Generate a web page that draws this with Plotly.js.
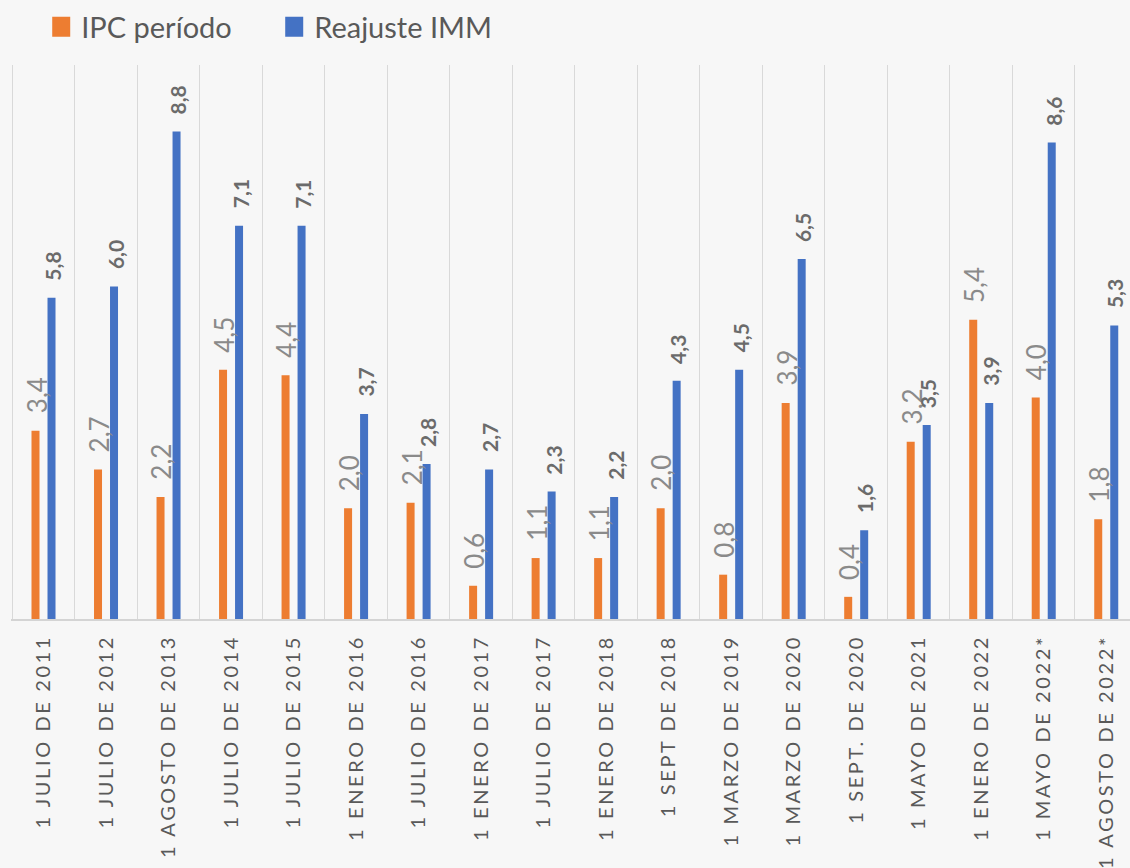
<!DOCTYPE html>
<html>
<head>
<meta charset="utf-8">
<script src="https://cdn.plot.ly/plotly-3.0.1.min.js"></script>
<style>
  html, body { margin: 0; padding: 0; overflow: hidden; background: #f7f7f7; }
  #chart { width: 1130px; height: 868px; }
  .xtick text { letter-spacing: 2.6px; }
</style>
</head>
<body>
<div id="chart"></div>
<script>
const categories = [
  "1 JULIO DE 2011", "1 JULIO DE 2012", "1 AGOSTO DE 2013", "1 JULIO DE 2014",
  "1 JULIO DE 2015", "1 ENERO DE 2016", "1 JULIO DE 2016", "1 ENERO DE 2017",
  "1 JULIO DE 2017", "1 ENERO DE 2018", "1 SEPT DE 2018", "1 MARZO DE 2019",
  "1 MARZO DE 2020", "1 SEPT. DE 2020", "1 MAYO DE 2021", "1 ENERO DE 2022",
  "1 MAYO DE 2022*", "1 AGOSTO DE 2022*"
];
const ipcPeriodo = [3.4, 2.7, 2.2, 4.5, 4.4, 2.0, 2.1, 0.6, 1.1, 1.1, 2.0, 0.8, 3.9, 0.4, 3.2, 5.4, 4.0, 1.8];
const reajusteIMM = [5.8, 6.0, 8.8, 7.1, 7.1, 3.7, 2.8, 2.7, 2.3, 2.2, 4.3, 4.5, 6.5, 1.6, 3.5, 3.9, 8.6, 5.3];
const seriesNames = ["IPC período", "Reajuste IMM"];

const fmt = v => v.toFixed(1).replace('.', ',');

const traces = [
  { type: 'bar', name: seriesNames[0], x: categories, y: ipcPeriodo,
    marker: { color: '#ED7D31' }, hoverinfo: 'x+y' },
  { type: 'bar', name: seriesNames[1], x: categories, y: reajusteIMM,
    marker: { color: '#4472C4' }, hoverinfo: 'x+y' }
];

const annotations = [];
categories.forEach((c, i) => {
  annotations.push({
    x: c, y: ipcPeriodo[i], xref: 'x', yref: 'y', text: fmt(ipcPeriodo[i]),
    showarrow: false, textangle: -90, xanchor: 'center', yanchor: 'bottom',
    xshift: -7, yshift: 15,
    font: { family: 'Lato, sans-serif', size: 26, color: '#8a8a8a' }
  });
  annotations.push({
    x: c, y: reajusteIMM[i], xref: 'x', yref: 'y', text: '<b>' + fmt(reajusteIMM[i]) + '</b>',
    showarrow: false, textangle: -90, xanchor: 'center', yanchor: 'bottom',
    xshift: 9, yshift: 15,
    font: { family: 'Lato, sans-serif', size: 21, color: '#6b6b6b' }
  });
});

const layout = {
  width: 1130, height: 868,
  margin: { l: 11, r: 0, t: 65, b: 249 },
  paper_bgcolor: '#f7f7f7', plot_bgcolor: 'rgba(0,0,0,0)',
  barmode: 'group', bargap: 0.488, bargroupgap: 0.5,
  separators: ',.',
  showlegend: true,
  legend: {
    orientation: 'h', x: 0.027, xanchor: 'left', y: 1.0686, yanchor: 'middle',
    yref: 'paper', xref: 'paper',
    font: { family: 'Lato, sans-serif', size: 29, color: '#595959' },
    bgcolor: 'rgba(0,0,0,0)', entrywidth: 188
  },
  xaxis: {
    type: 'category', range: [-0.52, 17.38], tickson: 'boundaries',
    showgrid: true, gridcolor: '#d9d9d9', gridwidth: 1,
    showline: true, linecolor: '#d4d4d4', linewidth: 2,
    ticks: '', tickangle: -90, ticklabelstandoff: 6,
    tickfont: { family: 'Lato, sans-serif', size: 20, color: '#595959' },
    fixedrange: true, automargin: false
  },
  yaxis: {
    range: [0, 10], showgrid: false, zeroline: false, showticklabels: false,
    showline: false, ticks: '', fixedrange: true, automargin: false
  },
  annotations: annotations
};

Plotly.newPlot('chart', traces, layout, { displayModeBar: false, staticPlot: true }).then(() => {
  document.querySelectorAll('.legend .legendpoints path').forEach(p => {
    p.setAttribute('d', 'M9,10H-9V-10H9Z');
  });
});
</script>
</body>
</html>
